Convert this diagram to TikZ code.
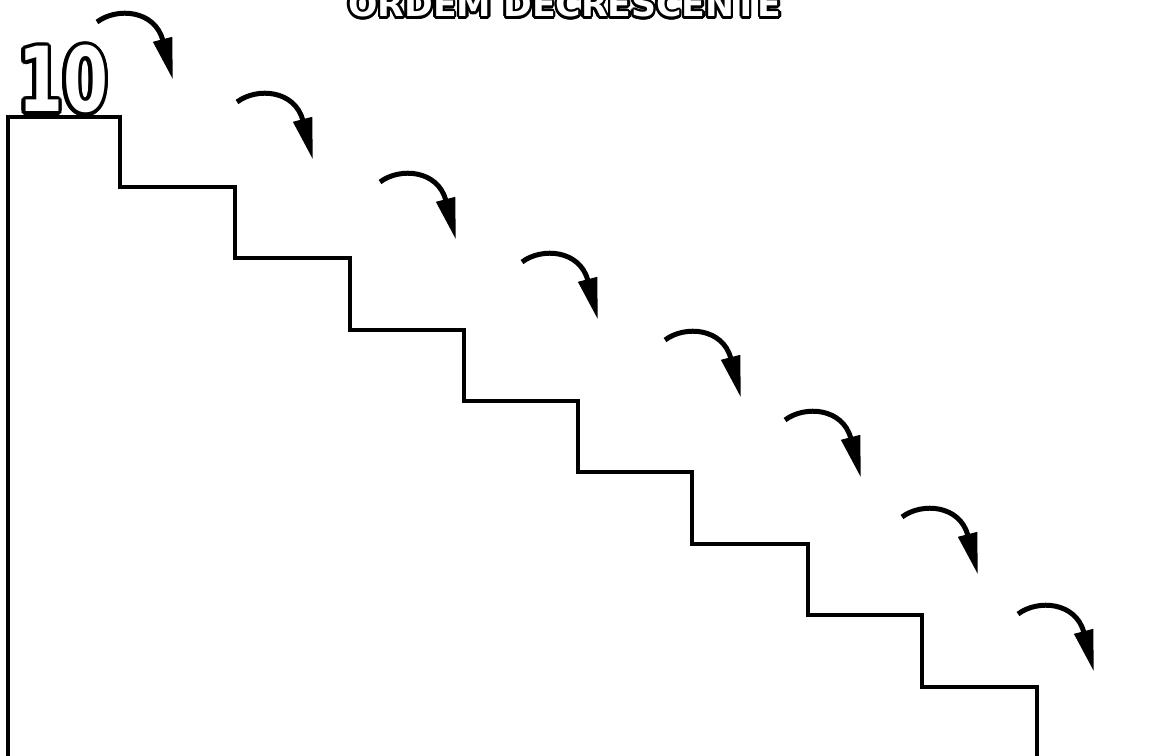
\documentclass[tikz,border=0pt]{standalone}
\usepackage{fontspec}
\usetikzlibrary{arrows.meta,calc}
\newfontfamily\tennarrow[FakeStretch=0.72]{DejaVu Sans}
\newfontfamily\titlefam{DejaVu Sans}
\begin{document}
\begin{tikzpicture}[x=0.02cm,y=-0.02cm,
  stair/.style={line width=0.07cm, line join=miter},
  hop/.style={line width=0.1cm, -{Triangle[length=0.84cm,width=0.37cm]}},
  tenfont/.style={font=\tennarrow\bfseries\fontsize{51}{52}\selectfont, anchor=base, inner sep=0pt},
  titlefont/.style={font=\titlefam\bfseries\fontsize{19.7}{20}\selectfont, anchor=base, inner sep=0pt}]
\useasboundingbox (0,0) rectangle (1152,756);
\clip (0,0) rectangle (1152,756);
\fill[white] (0,0) rectangle (1152,756);

% title, outlined
\coordinate (tpos) at (565,17);
\foreach \a in {0,22.5,...,337.5}
  \node[titlefont, text=black] at ($(tpos)+(\a:2.5)$) {ORDEM DECRESCENTE};
\node[titlefont, text=white] (title) at (tpos) {ORDEM DECRESCENTE};

% number 10, outlined
\coordinate (npos) at (63,112);
\foreach \a in {0,22.5,...,337.5}
  \node[tenfont, text=black] at ($(npos)+(\a:3.8)$) {10};
\node[tenfont, text=white] (ten) at (npos) {10};

% staircase
\draw[stair] (8,760) -- (8,117) -- (120,117) -- (120,187) -- (235,187) -- (235,258)
  -- (350,258) -- (350,330) -- (464,330) -- (464,401) -- (578,401) -- (578,472)
  -- (692,472) -- (692,544) -- (808,544) -- (808,615) -- (922,615) -- (922,687)
  -- (1037,687) -- (1037,760);

% curved arrows
\foreach \x/\y [count=\i] in {97/22,237/102,380/182,522/262,665/340,785/420,902/517,1018/614}{
  \coordinate (s\i) at (\x,\y);
  \draw[hop] (s\i) .. controls ($(s\i)+(20,-15)$) and ($(s\i)+(58,-12)$) .. ($(s\i)+(76,58)$);
}
\end{tikzpicture}
\end{document}
